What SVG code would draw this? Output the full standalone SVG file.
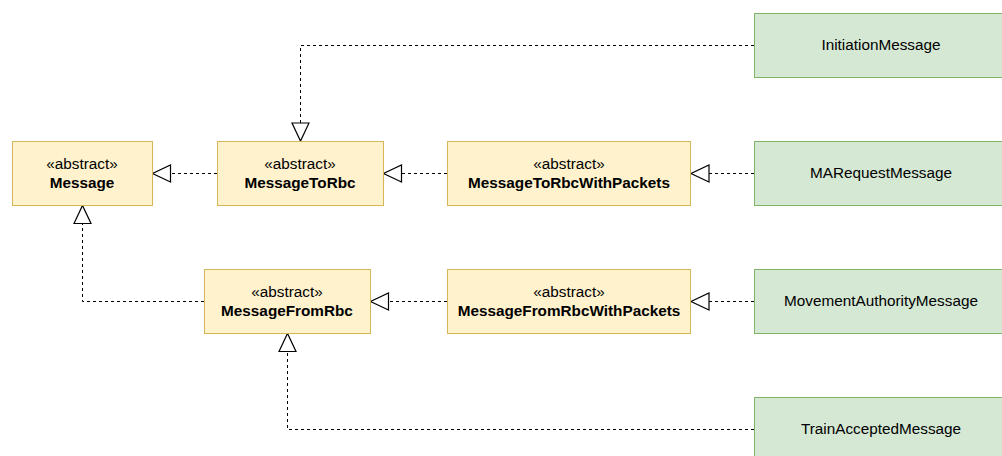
<svg xmlns="http://www.w3.org/2000/svg" width="1002" height="456" viewBox="0 0 1002 456">
  <style>
    .abstract rect { fill: #fff2cc; stroke: #d6b656; stroke-width: 1; }
    .concrete rect { fill: #d5e8d4; stroke: #82b366; stroke-width: 1; }
    text { font-family: "Liberation Sans", Arial, sans-serif; font-size: 15.3px; fill: #000; text-anchor: middle; }
    .name { font-weight: bold; }
    .edge { fill: none; stroke: #000; stroke-width: 1; stroke-dasharray: 3 3; marker-end: url(#realize); }
  </style>
  <defs>
    <!-- hollow triangle head for realization / inheritance -->
    <marker id="realize" markerUnits="userSpaceOnUse" viewBox="-1 -1 20 19" markerWidth="20" markerHeight="19" refX="18" refY="8.5" orient="auto" overflow="visible">
      <path d="M0,0 L18,8.5 L0,17 Z" fill="#fff" stroke="#000" stroke-width="1.2" stroke-linejoin="miter"/>
    </marker>
  </defs>

  <rect width="1002" height="456" fill="#fff"/>

  <g id="connectors">
    <path class="edge" d="M754,45.5 H300.5 V141"/>
    <path class="edge" d="M217,173.5 H152.5"/>
    <path class="edge" d="M447,173.5 H383.5"/>
    <path class="edge" d="M754,173.5 H691"/>
    <path class="edge" d="M204,301.5 H82.5 V205.5"/>
    <path class="edge" d="M447,301.5 H370.5"/>
    <path class="edge" d="M754,301.5 H691"/>
    <path class="edge" d="M754,429.5 H287.5 V333.5"/>
  </g>

  <g id="Message" class="abstract">
    <rect x="12.5" y="141.5" width="140" height="64"/>
    <text x="82" y="169">«abstract»</text>
    <text class="name" x="82" y="187.5">Message</text>
  </g>
  <g id="MessageToRbc" class="abstract">
    <rect x="217.5" y="141.5" width="166" height="64"/>
    <text x="300" y="169">«abstract»</text>
    <text class="name" x="300" y="187.5">MessageToRbc</text>
  </g>
  <g id="MessageToRbcWithPackets" class="abstract">
    <rect x="447.5" y="141.5" width="243" height="64"/>
    <text x="569" y="169">«abstract»</text>
    <text class="name" x="569" y="187.5">MessageToRbcWithPackets</text>
  </g>
  <g id="MessageFromRbc" class="abstract">
    <rect x="204.5" y="269.5" width="166" height="64"/>
    <text x="287" y="297">«abstract»</text>
    <text class="name" x="287" y="315.5">MessageFromRbc</text>
  </g>
  <g id="MessageFromRbcWithPackets" class="abstract">
    <rect x="447.5" y="269.5" width="243" height="64"/>
    <text x="569" y="297">«abstract»</text>
    <text class="name" x="569" y="315.5">MessageFromRbcWithPackets</text>
  </g>

  <g id="InitiationMessage" class="concrete">
    <rect x="754.5" y="13.5" width="254" height="64"/>
    <text x="881" y="50">InitiationMessage</text>
  </g>
  <g id="MARequestMessage" class="concrete">
    <rect x="754.5" y="141.5" width="254" height="64"/>
    <text x="881" y="178">MARequestMessage</text>
  </g>
  <g id="MovementAuthorityMessage" class="concrete">
    <rect x="754.5" y="269.5" width="254" height="64"/>
    <text x="881" y="306">MovementAuthorityMessage</text>
  </g>
  <g id="TrainAcceptedMessage" class="concrete">
    <rect x="754.5" y="397.5" width="254" height="64"/>
    <text x="881" y="434">TrainAcceptedMessage</text>
  </g>
</svg>
